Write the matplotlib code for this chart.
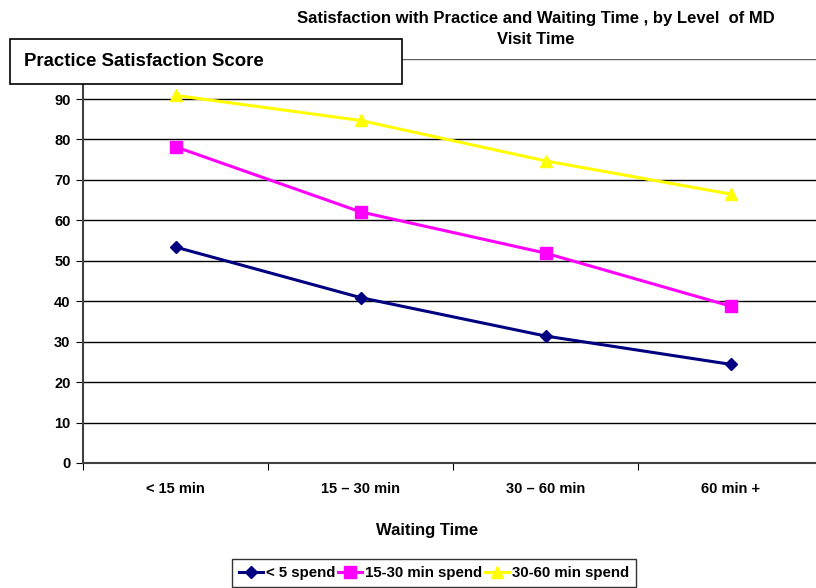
import matplotlib
matplotlib.use("Agg")
import matplotlib.pyplot as plt
from matplotlib.patches import Rectangle

plt.rcParams['font.family'] = ['Liberation Sans', 'DejaVu Sans']

categories = ["< 15 min", "15 – 30 min", "30 – 60 min", "60 min +"]
series_names = ["< 5 spend", "15-30 min spend", "30-60 min spend"]
lt5 = [53.4, 40.9, 31.4, 24.4]
s15_30 = [78.2, 62.1, 51.9, 38.8]
s30_60 = [90.9, 84.7, 74.7, 66.5]
yticks = [0, 10, 20, 30, 40, 50, 60, 70, 80, 90]

W, H = 816, 588
fig = plt.figure(figsize=(W / 100, H / 100), dpi=100)
ax = fig.add_axes([83 / W, (H - 463) / H, (823 - 83) / W, (463 - 58.6) / H])

x = list(range(len(categories)))
ax.plot(x, lt5, color="#000080", marker="D", markersize=6, lw=2.2, label=series_names[0], zorder=3)
ax.plot(x, s15_30, color="#FF00FF", marker="s", markersize=8, lw=2.2, label=series_names[1], zorder=3)
ax.plot(x, s30_60, color="#FFFF00", marker="^", markersize=8, lw=2.2, label=series_names[2], zorder=3)

ax.set_xlim(-0.5, 3.5)
ax.set_ylim(0, 100)
ax.set_yticks(yticks)
ax.set_yticklabels([str(v) for v in yticks], fontweight="bold", fontsize=10.5)
for v in yticks[1:]:
    ax.axhline(v, color="black", lw=1, zorder=1)
ax.axhline(100, color="#606060", lw=1, zorder=1)
ax.set_xticks([-0.5, 0.5, 1.5, 2.5])
ax.set_xticklabels([])
ax.set_xticks(x, minor=True)
ax.set_xticklabels(categories, minor=True, fontweight="bold", fontsize=10.5)
ax.tick_params(axis="x", which="minor", length=0, pad=14)
ax.tick_params(axis="x", which="major", length=5, direction="out")
ax.tick_params(axis="y", length=5, direction="out", pad=4)
for s in ["top", "right"]:
    ax.spines[s].set_visible(False)
ax.spines["left"].set_color("#404040")
ax.spines["bottom"].set_color("#404040")
ax.spines["left"].set_linewidth(1.5)
ax.spines["bottom"].set_linewidth(1.5)

fig.text(536 / W, 1 - 29 / H, "Satisfaction with Practice and Waiting Time , by Level  of MD\nVisit Time",
         ha="center", va="center", fontweight="bold", fontsize=12, linespacing=1.5)

fig.text(427 / W, 1 - 530 / H, "Waiting Time", ha="center", va="center", fontweight="bold", fontsize=12)

box = Rectangle((10 / W, 1 - 84 / H), (402 - 10) / W, (84 - 39) / H, transform=fig.transFigure,
                facecolor="white", edgecolor="black", lw=1.2, zorder=10)
fig.add_artist(box)
t = fig.text(24 / W, 1 - 61.5 / H, "Practice Satisfaction Score", ha="left", va="center",
             fontweight="bold", fontsize=13.4, zorder=11)

leg = fig.legend(loc="upper left", bbox_to_anchor=(232 / W, 1 - 559 / H), ncol=3,
                 frameon=True, fancybox=False, edgecolor="black", handlelength=1.6,
                 columnspacing=0.2, handletextpad=0.2, borderpad=0.45,
                 prop={"weight": "bold", "size": 10.8}, borderaxespad=0)
leg.get_frame().set_linewidth(1.0)

fig.savefig("out.png", dpi=100)
